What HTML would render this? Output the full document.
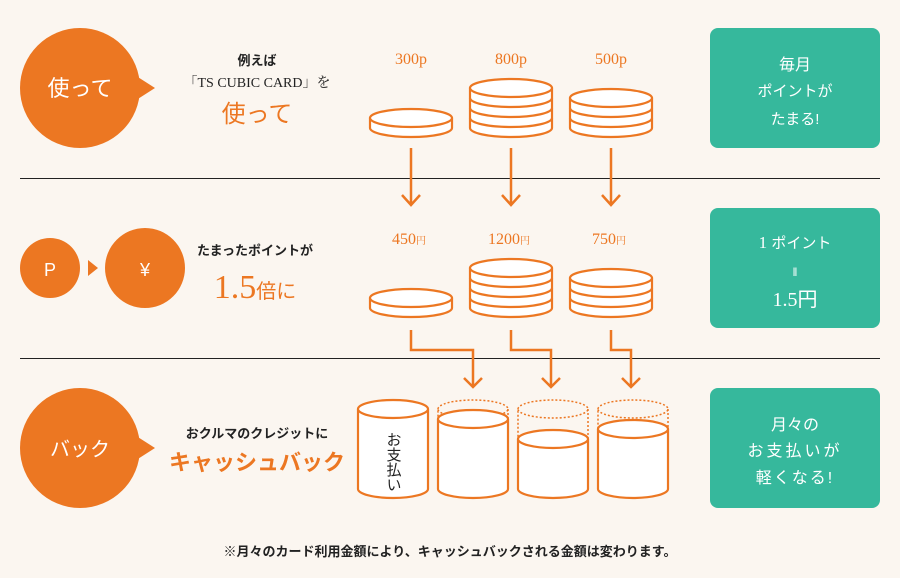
<!DOCTYPE html>
<html><head><meta charset="utf-8"><style>
body{margin:0;background:#fbf6f0;}
svg{display:block;font-family:"Liberation Serif","Noto Serif CJK SC",serif;}
.s{font-family:"Liberation Sans","Noto Sans CJK JP",sans-serif;}
</style></head><body>
<svg width="900" height="578" viewBox="0 0 900 578">
<rect width="900" height="578" fill="#fbf6f0"/>
<line x1="20" y1="178.5" x2="880" y2="178.5" stroke="#222" stroke-width="1"/>
<line x1="20" y1="358.5" x2="880" y2="358.5" stroke="#222" stroke-width="1"/>
<g fill="#ec7722">
<circle cx="80" cy="88" r="60"/><polygon points="130,72 155,88 130,104"/>
<circle cx="50" cy="268" r="30"/><polygon points="88,260 98,268 88,276"/>
<circle cx="145" cy="268" r="40"/>
<circle cx="80" cy="448" r="60"/><polygon points="130,432 155,448 130,464"/>
</g>
<g fill="#fff" text-anchor="middle" class="s">
<text x="80" y="96" font-size="22">使って</text>
<text x="50" y="276" font-size="18">P</text>
<text x="145" y="276" font-size="18">¥</text>
<text x="80" y="456" font-size="20">バック</text>
</g>
<g text-anchor="middle" fill="#222">
<text x="257" y="65" font-size="13" class="s" font-weight="bold">例えば</text>
<text x="257" y="87" font-size="14">「TS CUBIC CARD」を</text>
<text x="257" y="122" font-size="24" fill="#ec7722" class="s">使って</text>
<text x="255" y="255" font-size="13" class="s" font-weight="bold">たまったポイントが</text>
<text x="255" y="298" font-size="34" fill="#ec7722">1.5<tspan font-size="20" class="s">倍に</tspan></text>
<text x="257" y="438" font-size="13" class="s" font-weight="bold">おクルマのクレジットに</text>
<text x="257" y="470" font-size="22" fill="#ec7722" class="s" font-weight="bold">キャッシュバック</text>
<text x="450" y="556" font-size="13" class="s" font-weight="bold">※月々のカード利用金額により、キャッシュバックされる金額は変わります。</text>
</g>
<g fill="#ec7722" font-size="16" text-anchor="middle">
<text x="411" y="64">300p</text><text x="511" y="64">800p</text><text x="611" y="64">500p</text>
<text x="409" y="244">450<tspan font-size="10">円</tspan></text>
<text x="509" y="244">1200<tspan font-size="10">円</tspan></text>
<text x="609" y="244">750<tspan font-size="10">円</tspan></text>
</g>
<g fill="#fff" stroke="#ec7722" stroke-width="2.2">
<path d="M370,118 v10 a41,9 0 0 0 82,0 v-10"/><ellipse cx="411" cy="118" rx="41" ry="9"/>
<path d="M470,88 v40 a41,9 0 0 0 82,0 v-40"/><path d="M470,98 a41,9 0 0 0 82,0 M470,108 a41,9 0 0 0 82,0 M470,118 a41,9 0 0 0 82,0" fill="none"/><ellipse cx="511" cy="88" rx="41" ry="9"/>
<path d="M570,98 v30 a41,9 0 0 0 82,0 v-30"/><path d="M570,108 a41,9 0 0 0 82,0 M570,118 a41,9 0 0 0 82,0" fill="none"/><ellipse cx="611" cy="98" rx="41" ry="9"/>
<path d="M370,298 v10 a41,9 0 0 0 82,0 v-10"/><ellipse cx="411" cy="298" rx="41" ry="9"/>
<path d="M470,268 v40 a41,9 0 0 0 82,0 v-40"/><path d="M470,278 a41,9 0 0 0 82,0 M470,288 a41,9 0 0 0 82,0 M470,298 a41,9 0 0 0 82,0" fill="none"/><ellipse cx="511" cy="268" rx="41" ry="9"/>
<path d="M570,278 v30 a41,9 0 0 0 82,0 v-30"/><path d="M570,288 a41,9 0 0 0 82,0 M570,298 a41,9 0 0 0 82,0" fill="none"/><ellipse cx="611" cy="278" rx="41" ry="9"/>
</g>
<g fill="none" stroke="#ec7722" stroke-width="2.5">
<path d="M411,148 v56 M402,195 l9,10 l9,-10"/>
<path d="M511,148 v56 M502,195 l9,10 l9,-10"/>
<path d="M611,148 v56 M602,195 l9,10 l9,-10"/>
<path d="M411,330 v20 h62 v36 M464,378 l9,9 l9,-9"/>
<path d="M511,330 v20 h40 v36 M542,378 l9,9 l9,-9"/>
<path d="M611,330 v20 h20 v36 M622,378 l9,9 l9,-9"/>
</g>
<g fill="none" stroke="#ec7722" stroke-width="1.5" stroke-dasharray="2,2">
<path d="M438,409 a35,9 0 0 1 70,0 a35,9 0 0 1 -70,0 v10 M508,409 v10"/>
<path d="M518,409 a35,9 0 0 1 70,0 a35,9 0 0 1 -70,0 v30 M588,409 v30"/>
<path d="M598,409 a35,9 0 0 1 70,0 a35,9 0 0 1 -70,0 v20 M668,409 v20"/>
</g>
<g fill="#fff" stroke="#ec7722" stroke-width="2.2">
<path d="M358,409 v80 a35,9 0 0 0 70,0 v-80"/><ellipse cx="393" cy="409" rx="35" ry="9"/>
<path d="M438,419 v70 a35,9 0 0 0 70,0 v-70"/><ellipse cx="473" cy="419" rx="35" ry="9"/>
<path d="M518,439 v50 a35,9 0 0 0 70,0 v-50"/><ellipse cx="553" cy="439" rx="35" ry="9"/>
<path d="M598,429 v60 a35,9 0 0 0 70,0 v-60"/><ellipse cx="633" cy="429" rx="35" ry="9"/>
</g>
<text x="393" y="432" font-size="15" fill="#222" class="s" style="writing-mode:vertical-rl" text-anchor="start">お支払い</text>
<g fill="#36b89c">
<rect x="710" y="28" width="170" height="120" rx="8"/>
<rect x="710" y="208" width="170" height="120" rx="8"/>
<rect x="710" y="388" width="170" height="120" rx="8"/>
</g>
<g fill="#fff" text-anchor="middle" font-size="15" class="s">
<text x="795" y="70" font-size="16">毎月</text>
<text x="795" y="96">ポイントが</text>
<text x="795" y="124">たまる!</text>
<text x="795" y="248"><tspan font-family="Liberation Serif" font-size="17">1 </tspan>ポイント</text>
<text x="795" y="276" font-size="12">‖</text>
<text x="795" y="306" font-size="20"><tspan font-family="Liberation Serif">1.5</tspan>円</text>
<text x="795" y="430" font-size="16">月々の</text>
<text x="795" y="456" font-size="16" letter-spacing="3">お支払いが</text>
<text x="795" y="483" font-size="16" letter-spacing="2">軽くなる!</text>
</g>
</svg>
</body></html>
